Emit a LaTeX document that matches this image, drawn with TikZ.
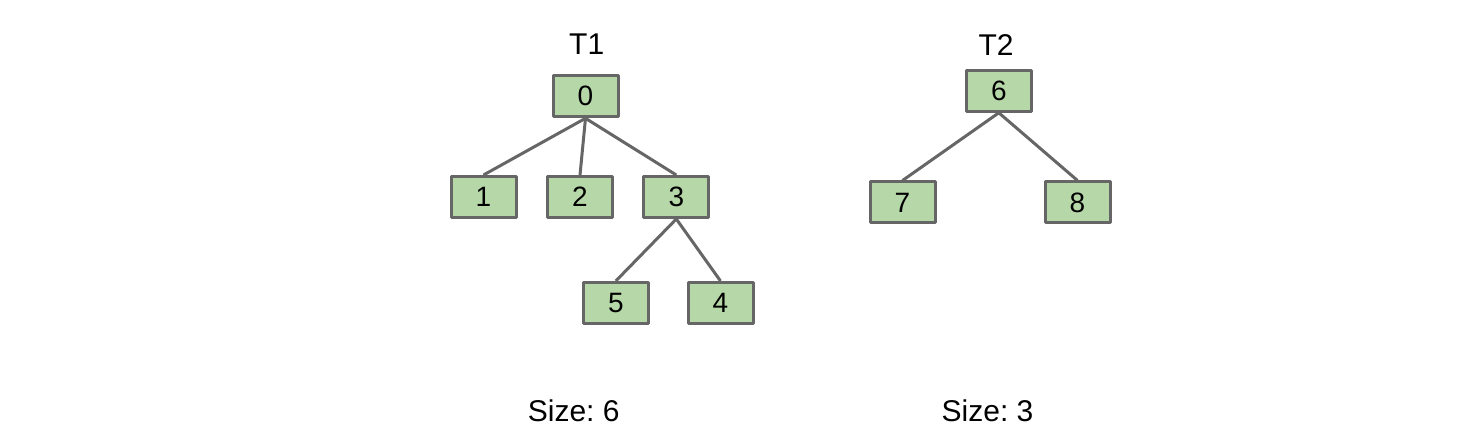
\documentclass[tikz,border=0pt]{standalone}
\usepackage{fontspec}
\setmainfont{Liberation Sans}
\frenchspacing
\definecolor{treegreen}{HTML}{B6D7A8}
\definecolor{treegray}{HTML}{666666}
\begin{document}
\begin{tikzpicture}[x=1pt,y=1pt,line join=round,
    box/.style={draw=treegray,line width=3pt,fill=treegreen,minimum width=65pt,minimum height=41pt,inner sep=0pt,font=\fontsize{28}{32}\selectfont},
    edge/.style={draw=treegray,line width=3pt},
    title/.style={inner sep=0pt,font=\fontsize{30}{36}\selectfont}]
            \useasboundingbox (0,0) rectangle (1472,442);
            % tree T1
            \node[title] (t1) at (586.7,398) {T1};
            \node[box] (n0) at (585.5,345.7) {0};
            \node[box] (n1) at (483.5,245) {1};
            \node[box] (n2) at (580,245) {2};
            \node[box] (n3) at (676.3,245) {3};
            \node[box] (n5) at (615.8,139) {5};
            \node[box] (n4) at (720.5,139) {4};
            \foreach \c in {n1,n2,n3}{
                \draw[edge] (n0.south) -- (\c.north);
            }
            \foreach \c in {n5,n4}{
                \draw[edge] (n3.south) -- (\c.north);
            }
            % tree T2
            \node[title] (t2) at (996,397) {T2};
            \node[box] (n6) at (998.8,351.2) {6};
            \node[box] (n7) at (902.5,239.5) {7};
            \node[box] (n8) at (1077.5,239.5) {8};
            \foreach \c in {n7,n8}{
                \draw[edge] (n6.south) -- (\c.north);
            }
            % sizes
            \node[title] (size1) at (573.7,31) {Size: 6};
            \node[title] (size2) at (987.5,31) {Size: 3};
        \end{tikzpicture}
\end{document}
